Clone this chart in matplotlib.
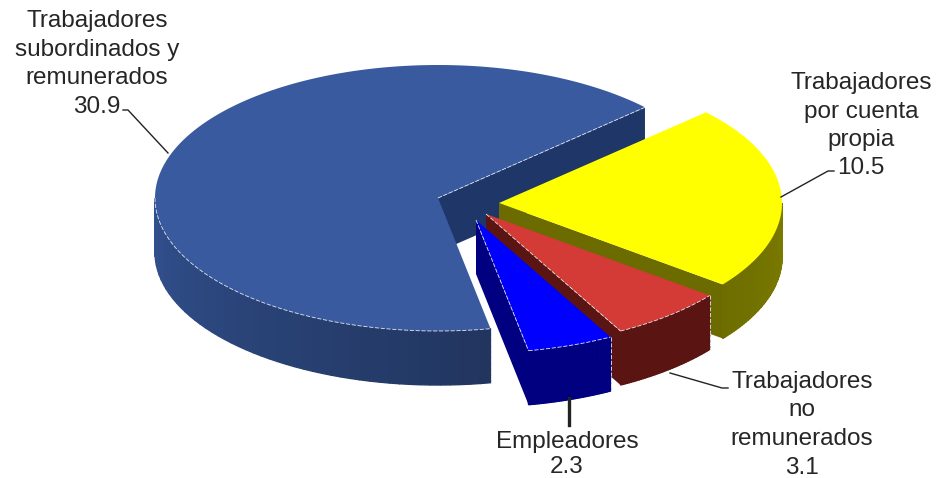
#!/usr/bin/env python3
import numpy as np
import matplotlib
matplotlib.use('Agg')
import matplotlib.pyplot as plt
from matplotlib.colors import to_rgb

# Data, clockwise from the start angle
categories = ['Trabajadores\npor cuenta\npropia', 'Trabajadores\nno\nremunerados',
              'Empleadores', 'Trabajadores\nsubordinados y\nremunerados']
values = [10.5, 3.1, 2.3, 30.9]

# Pie geometry (axes are in image pixels)
start_angle = 43.0
rx, ry, depth = 283, 133, 54
apexes = [(499, 203), (486, 214), (476, 220), (438, 198)]
top_colors = ['#ffff00', '#d43a36', '#0000ff', '#3a5a9f']
wall_colors = ['#6b6b00', '#5a1412', '#000080', '#1f3768']
side_left = ['#6e6e00', '#5a1412', '#000080', '#32518f']
side_right = ['#7a7a00', '#5a1412', '#000080', '#21355f']
edge_color = '#e4e8f2'

# Label placement: centre x, first line y
label_pos = [(861, 83), (802, 382), (567, 442), (97, 21)]
line_step = [28.5, 28.5, 25, 28.5]
leaders = [
    ([781, 828, 834], [197, 171, 171], 1.0),
    ([670, 722, 728], [373, 388, 388], 1.0),
    ([569, 569], [398, 425], 2.4),
    ([123, 128, 168], [110, 110, 153], 1.0),
]

plt.rcParams['font.family'] = ['Liberation Sans', 'DejaVu Sans']
fig = plt.figure(figsize=(9.37, 4.78), dpi=100)
ax = fig.add_axes([0, 0, 1, 1])
ax.set_xlim(0, 937)
ax.set_ylim(478, 0)
ax.axis('off')


def rim(apex, a0, a1, n=120):
    t = np.radians(np.linspace(a0, a1, n))
    return apex[0] + rx * np.cos(t), apex[1] - ry * np.sin(t)


# Slice angles from the values
total = sum(values)
sweeps = [v / total * 360 for v in values]
ends = start_angle - np.cumsum(sweeps)
starts = np.r_[start_angle, ends[:-1]]

# back to front: big slice first, then yellow, red, blue
draw_order = [3, 0, 1, 2]
for z, i in enumerate(draw_order, start=2):
    apex = apexes[i]
    a0, a1 = starts[i], ends[i]
    dash = dict(color=edge_color, lw=0.6, ls=(0, (5, 2)), zorder=z + 0.6)

    # flat inner wall, always on the slice's far end
    wx, wy = rim(apex, a1, a1, 1)
    wx, wy = wx[0], wy[0]
    ax.fill([apex[0], wx, wx, apex[0]], [apex[1], wy, wy + depth, apex[1] + depth],
            color=wall_colors[i], lw=0, zorder=z)

    # curved outer side, only where it faces the viewer
    lo, hi = max(a1, -180), min(a0, 0)
    seg = np.linspace(lo, hi, 50)
    c0, c1 = np.array(to_rgb(side_left[i])), np.array(to_rgb(side_right[i]))
    for k in range(len(seg) - 1):
        sx, sy = rim(apex, seg[k], seg[k + 1], 5)
        col = c0 + (c1 - c0) * k / (len(seg) - 2)
        ax.fill(np.r_[sx, sx[::-1]], np.r_[sy, sy[::-1] + depth], color=col, lw=1.0, zorder=z)

    # top face
    tx, ty = rim(apex, a0, a1, 200)
    ax.fill(np.r_[apex[0], tx], np.r_[apex[1], ty], color=top_colors[i], lw=0, zorder=z + 0.5)

    # pale dashed edges where the top meets the sides
    if i != 0:
        ex, ey = rim(apex, lo, hi, 80)
        ax.plot(ex, ey, **dash)
        ax.plot([apex[0], wx], [apex[1], wy], **dash)
        cx, cy = rim(apex, hi, hi, 1)
        ax.plot([cx[0], cx[0]], [cy[0], cy[0] + depth], **dash)

# Leader lines
for lx, ly, lw in leaders:
    ax.plot(lx, ly, color='#222222', lw=lw, zorder=10)

# Labels
for i, cat in enumerate(categories):
    lines = cat.split('\n') + [str(values[i])]
    x, y = label_pos[i]
    for j, line in enumerate(lines):
        ax.text(x, y + j * line_step[i], line, ha='center', va='center',
                fontsize=17.5, color='#262626', zorder=11)

fig.savefig('out.png', dpi=100)
